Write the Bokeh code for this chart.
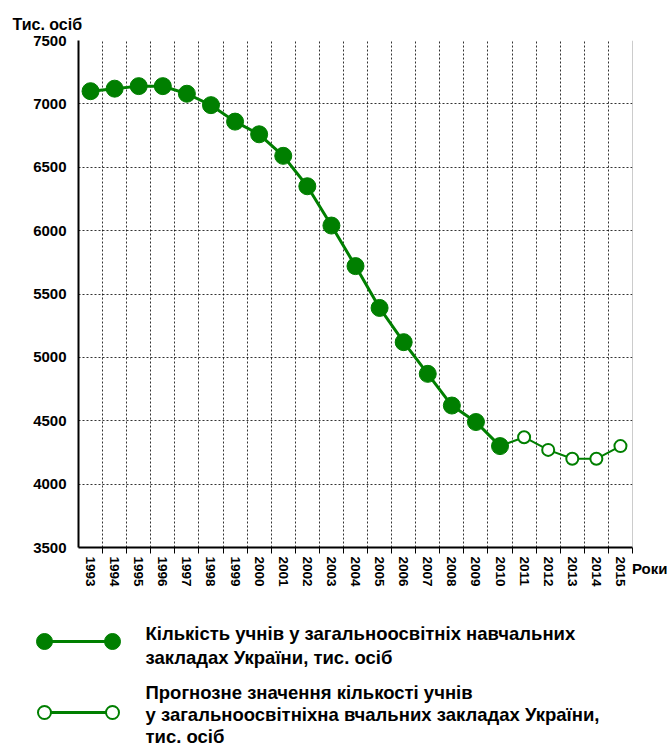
from bokeh.plotting import figure
from bokeh.models import FixedTicker, Range1d, Span, ColumnDataSource, Title
from bokeh.embed import file_html
from bokeh.resources import INLINE
from bokeh.core.properties import value

years = list(range(1993, 2011))
pupils = [7100, 7120, 7140, 7140, 7080, 6990, 6860, 6760, 6590, 6350,
          6040, 5720, 5390, 5120, 4870, 4620, 4490, 4300]
forecast_years = [2011, 2012, 2013, 2014, 2015]
forecast = [4370, 4270, 4200, 4200, 4300]
all_years = list(range(1993, 2016))
y_ticks = [3500, 4000, 4500, 5000, 5500, 6000, 6500, 7000, 7500]
title_text = "Тис. осіб"
x_title = "Роки"
legend1 = ["Кількість учнів у загальноосвітніх навчальних", "закладах України, тис. осіб"]
legend2 = ["Прогнозне значення кількості учнів",
           "у загальноосвітніхна вчальних закладах України,", "тис. осіб"]

GREEN = "#007f00"
FONT = "Liberation Sans"

p = figure(width=667, height=598, output_backend="svg", toolbar_location=None,
           x_range=Range1d(all_years[0] - 0.5, all_years[-1] + 0.5),
           y_range=Range1d(y_ticks[0], y_ticks[-1]),
           min_border_left=78, min_border_right=35, min_border_top=40, min_border_bottom=51)
p.outline_line_color = None
p.background_fill_color = "white"

p.add_layout(Title(text=title_text, align="left", offset=-66, standoff=15,
                   text_font=FONT, text_font_style="bold", text_font_size="16px",
                   text_color="black"), "above")

bounds = [y - 0.5 for y in all_years] + [all_years[-1] + 0.5]
p.xaxis.ticker = FixedTicker(ticks=all_years, minor_ticks=bounds[1:])
p.xaxis.major_label_overrides = {y: str(y) for y in all_years}
p.xaxis.major_label_orientation = "vertical"
p.xaxis.major_tick_line_color = None
p.xaxis.minor_tick_line_color = "black"
p.xaxis.minor_tick_out = 6
p.xaxis.minor_tick_in = 0
p.xaxis.major_label_standoff = 3
p.xaxis.axis_line_width = 2
p.xaxis.axis_line_color = "black"
p.xaxis.major_label_text_font_size = "13.5px"

p.yaxis.ticker = FixedTicker(ticks=y_ticks)
p.yaxis.major_tick_line_color = None
p.yaxis.minor_tick_line_color = None
p.yaxis.major_label_standoff = 6
p.yaxis.axis_line_width = 2
p.yaxis.axis_line_color = "black"
p.yaxis.major_label_text_font_size = "15px"

for ax in (p.xaxis, p.yaxis):
    ax.major_label_text_font = FONT
    ax.major_label_text_font_style = "bold"
    ax.major_label_text_color = "black"

p.xgrid.ticker = FixedTicker(ticks=bounds[1:-1])
p.ygrid.ticker = FixedTicker(ticks=y_ticks[1:])
for g in (p.xgrid, p.ygrid):
    g.grid_line_color = "black"
    g.grid_line_dash = "2 2"
    g.grid_line_width = 1
    g.grid_line_alpha = 0.8

p.add_layout(Span(location=all_years[-1] + 0.5, dimension="height", line_color="#999999", line_width=1))

src = ColumnDataSource(dict(x=years, y=pupils))
fsrc_line = ColumnDataSource(dict(x=[years[-1]] + forecast_years, y=[pupils[-1]] + forecast))
fsrc = ColumnDataSource(dict(x=forecast_years, y=forecast))

p.line("x", "y", source=fsrc_line, line_color=GREEN, line_width=2)
p.line("x", "y", source=src, line_color=GREEN, line_width=3)
p.scatter("x", "y", source=src, size=17, fill_color=GREEN, line_color=GREEN)
p.scatter("x", "y", source=fsrc, size=12, fill_color="white", line_color=GREEN, line_width=2)

p.add_layout(Title(text=x_title, align="right", offset=-35, standoff=-60, vertical_align="top",
                   text_font=FONT, text_font_style="bold", text_font_size="15px",
                   text_color="black"), "below")

# legend panel
lg = figure(width=667, height=149, output_backend="svg", toolbar_location=None,
            x_range=Range1d(0, 667), y_range=Range1d(149, 0),
            min_border_left=0, min_border_right=0, min_border_top=0, min_border_bottom=0)
lg.axis.visible = False
lg.grid.visible = False
lg.outline_line_color = None

lg.line([44, 112], [43, 43], line_color=GREEN, line_width=3)
lg.scatter([44, 112], [43, 43], size=16, fill_color=GREEN, line_color=GREEN)
lg.line([44, 112], [114, 114], line_color=GREEN, line_width=3)
lg.scatter([44, 112], [114, 114], size=13, fill_color="white", line_color=GREEN, line_width=2)

lg.text([145] * len(legend1), [35 + 24 * i for i in range(len(legend1))], text=legend1,
        text_font=value(FONT), text_font_style="bold", text_font_size="18.5px",
        text_baseline="middle", text_color="black")
lg.text([145] * len(legend2), [94 + 22 * i for i in range(len(legend2))], text=legend2,
        text_font=value(FONT), text_font_style="bold", text_font_size="18.5px",
        text_baseline="middle", text_color="black")

open("out.html", "w").write(file_html([p, lg], INLINE))
